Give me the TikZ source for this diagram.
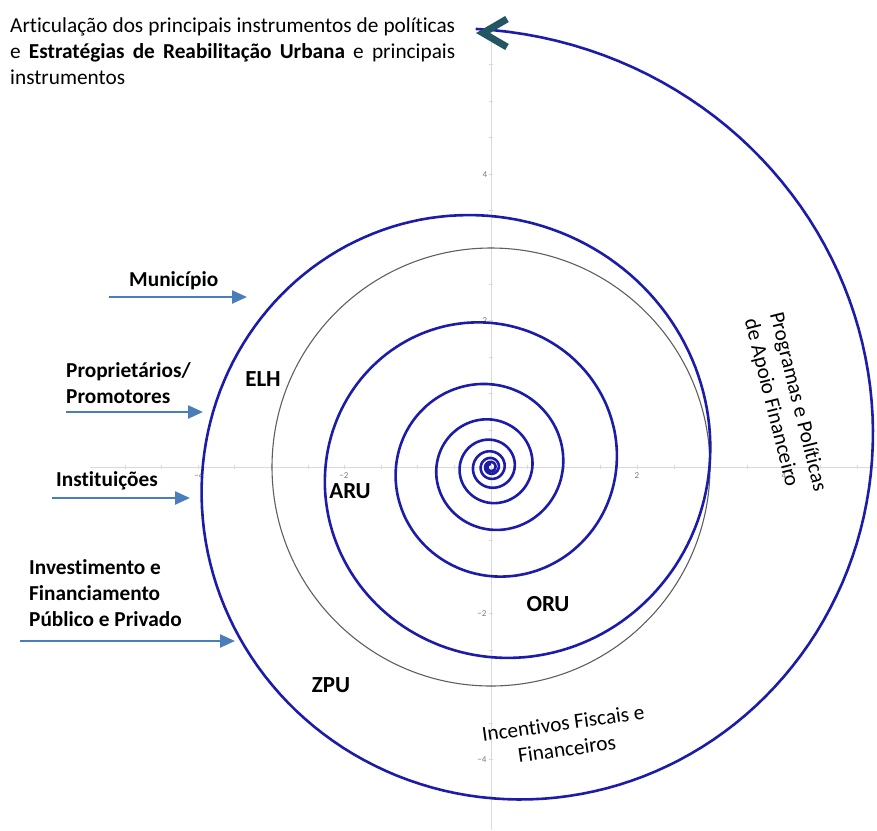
\documentclass[tikz,border=0pt]{standalone}
\usepackage{fontspec}
\setmainfont{Carlito}[Ligatures={NoCommon,NoContextual}]
\usetikzlibrary{arrows.meta}
\definecolor{spiralblue}{RGB}{28,28,168}
\definecolor{arrowblue}{RGB}{74,126,187}
\definecolor{chevroncol}{RGB}{35,85,98}
\definecolor{axisgray}{RGB}{218,218,218}
\definecolor{tickgray}{RGB}{120,120,120}
\definecolor{circgray}{RGB}{95,95,95}
\begin{document}
\begin{tikzpicture}[x=1pt,y=-1pt,
  lbl/.style={font=\fontsize{21.3}{26}\selectfont\bfseries, inner sep=0, anchor=west, align=left},
  zone/.style={font=\fontsize{23}{27}\selectfont\bfseries, inner sep=0},
  plain/.style={font=\fontsize{21.3}{26}\selectfont, inner sep=0},
  inarrow/.style={draw=arrowblue, line width=2.4pt, -{Triangle[length=15pt,width=13pt]}},
  ticklbl/.style={font=\fontsize{9}{10}\selectfont, text=tickgray, inner sep=1pt},
  axisline/.style={draw=axisgray, line width=0.8pt}]
\useasboundingbox (0,0) rectangle (877,830);
% axes
\draw[axisline] (90,467) -- (877,467);
\draw[axisline] (491,32) -- (491,830);
\foreach \k in {-10,...,-1,1,2,...,10} {
  \draw[axisline] ({491+36.6*\k},465) -- ({491+36.6*\k},469);
}
\foreach \k in {-11,...,-1,1,2,...,9} {
  \draw[axisline] (489,{467+36.6*\k}) -- (493,{467+36.6*\k});
}
\node[ticklbl] (xm4) at (199,476) {−4};
\node[ticklbl] (xm2) at (344,476) {−2};
\node[ticklbl] (xp2) at (637,476) {2};
\node[ticklbl] (xp4) at (784,476) {4};
\node[ticklbl] (yp4) at (485,175) {4};
\node[ticklbl] (yp2) at (485,321) {2};
\node[ticklbl] (ym2) at (482,614) {−2};
\node[ticklbl] (ym4) at (482,760) {−4};
% grey circle
\draw[circgray, line width=1.1pt] (491,467) circle[radius=219];
% spiral
\draw[spiralblue, line width=2.6pt, line join=round]
  plot[domain=-2:3240, samples=1500, variable=\t]
  ({491+437*exp(-0.0015446*\t)*sin(\t)}, {467-437*exp(-0.0015446*\t)*cos(\t)});
% chevron arrow head
\draw[chevroncol, line width=7pt, line join=miter] (507,19) -- (483,33) -- (507,47);
% title
\node[plain, anchor=north west, text width=445pt, align=justify] (title) at (10,18)
  {\hyphenpenalty=10000 Articulação dos principais instrumentos de políticas\linebreak e \textbf{Estratégias de Reabilitação Urbana} e principais\linebreak instrumentos};
% left labels and arrows
\node[lbl] (mun) at (129,281) {Município};
\coordinate (munA) at (109,297); \coordinate (munB) at (247,297);
\draw[inarrow] (munA) -- (munB);
\node[lbl] (prop) at (66,383) {Proprietários/\\Promotores};
\coordinate (propA) at (66,412); \coordinate (propB) at (203,412);
\draw[inarrow] (propA) -- (propB);
\node[lbl] (inst) at (56,481) {Instituições};
\coordinate (instA) at (52,498); \coordinate (instB) at (190,498);
\draw[inarrow] (instA) -- (instB);
\node[lbl] (inv) at (29,593) {Investimento e\\Financiamento\\Público e Privado};
\coordinate (invA) at (20,641); \coordinate (invB) at (235,641);
\draw[inarrow] (invA) -- (invB);
% zone labels
\node[zone] (elh) at (263,379) {ELH};
\node[zone] (aru) at (350,491) {ARU};
\node[zone] (oru) at (548,604) {ORU};
\node[zone] (zpu) at (331,685) {ZPU};
% rotated texts
\node[plain, rotate=-76, align=left] (prog) at (785,405) {Programas e Políticas\\de Apoio Financeiro};
\node[plain, rotate=8, align=center] (inc) at (565,736) {Incentivos Fiscais e\\Financeiros};
\end{tikzpicture}
\end{document}
